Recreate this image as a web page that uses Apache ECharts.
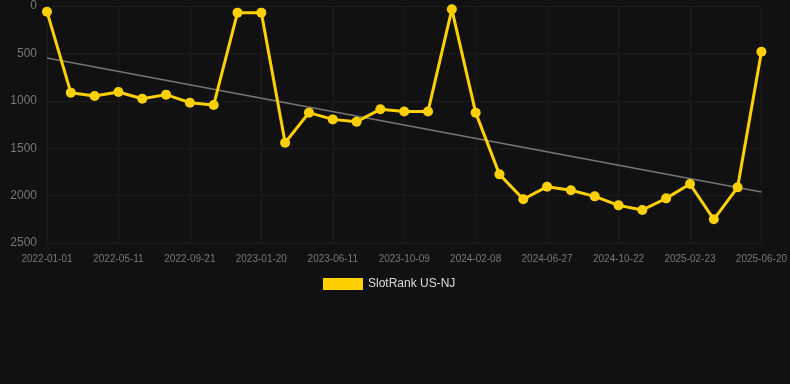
<!DOCTYPE html>
<html>
<head>
<meta charset="utf-8" />
<title>SlotRank US-NJ</title>
<style>
  html, body { margin: 0; padding: 0; background: #111111; }
</style>
</head>
<body>
<div id="main" style="width: 790px; height: 384px;"></div>
<script src="https://cdn.jsdelivr.net/npm/echarts@6/dist/echarts.min.js"></script>
<script>
// dates (category axis, labels shown every 3rd)
const dates = [
  '2022-01-01', '2022-02-13', '2022-03-28', '2022-05-11', '2022-06-25', '2022-08-08',
  '2022-09-21', '2022-11-01', '2022-12-11', '2023-01-20', '2023-03-08', '2023-04-25',
  '2023-06-11', '2023-07-21', '2023-08-30', '2023-10-09', '2023-11-19', '2023-12-30',
  '2024-02-08', '2024-03-25', '2024-05-11', '2024-06-27', '2024-08-05', '2024-09-13',
  '2024-10-22', '2024-12-03', '2025-01-13', '2025-02-23', '2025-04-03', '2025-05-12',
  '2025-06-20'
];

// rank values
const rankNJ = [
  60, 914, 949, 907, 978, 935, 1020, 1044, 70, 70, 1442,
  1125, 1196, 1220, 1090, 1112, 1112, 35, 1125, 1776, 2039,
  1906, 1944, 2008, 2103, 2152, 2029, 1878, 2250, 1913, 482
];

// trend line end points
const trendStart = 548;
const trendEnd = 1962;
const trend = dates.map((d, i) => (i === 0 ? trendStart : i === dates.length - 1 ? trendEnd : null));

const chart = echarts.init(document.getElementById('main'));

chart.setOption({
  backgroundColor: '#111111',
  animation: false,
  grid: { left: 47, right: 28, top: 6, bottom: 141, containLabel: false },
  legend: {
    data: ['SlotRank US-NJ'],
    top: 273,
    left: 318,
    itemWidth: 40,
    itemHeight: 12,
    itemGap: 7,
    icon: 'rect',
    textStyle: { color: '#dddddd', fontSize: 12, fontFamily: 'Arial, Liberation Sans, sans-serif' }
  },
  xAxis: {
    type: 'category',
    data: dates,
    boundaryGap: false,
    axisLine: { show: false },
    axisTick: { show: false },
    axisLabel: {
      interval: 2,
      color: '#777777',
      fontSize: 10,
      margin: 11,
      fontFamily: 'Arial, Liberation Sans, sans-serif'
    },
    splitLine: { show: true, interval: 2, lineStyle: { color: '#1c1c1c', width: 1 } }
  },
  yAxis: {
    type: 'value',
    inverse: true,
    min: 0,
    max: 2500,
    interval: 500,
    axisLine: { show: false },
    axisTick: { show: false },
    axisLabel: {
      color: '#777777',
      fontSize: 12,
      margin: 10,
      formatter: (v) => String(v),
      fontFamily: 'Arial, Liberation Sans, sans-serif'
    },
    splitLine: { lineStyle: { color: '#1c1c1c', width: 1 } }
  },
  series: [
    {
      name: 'SlotRank US-NJ',
      type: 'line',
      data: rankNJ,
      symbol: 'circle',
      symbolSize: 10,
      lineStyle: { color: '#FFD000', width: 3 },
      itemStyle: { color: '#FFD000' },
      z: 3
    },
    {
      name: 'Trend',
      type: 'line',
      data: trend,
      connectNulls: true,
      symbol: 'none',
      lineStyle: { color: '#777777', width: 1.5 },
      z: 2
    }
  ]
});
</script>
</body>
</html>
